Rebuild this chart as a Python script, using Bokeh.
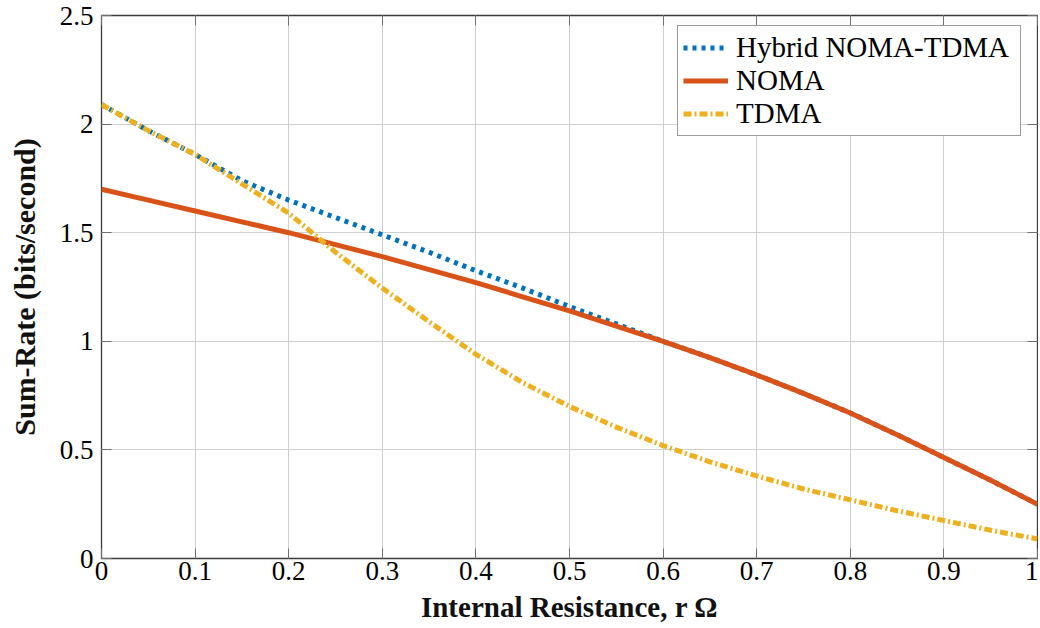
from bokeh.plotting import figure
from bokeh.models import (Range1d, LinearAxis, SingleIntervalTicker,
                          CustomJSTickFormatter)
from bokeh.embed import file_html
from bokeh.resources import INLINE

# ---- data ----
r = [0.0, 0.05, 0.1, 0.15, 0.2, 0.25, 0.3, 0.35, 0.4, 0.45, 0.5,
     0.55, 0.6, 0.65, 0.7, 0.75, 0.8, 0.85, 0.9, 0.95, 1.0]
hybrid = [2.09, 1.97, 1.86, 1.74, 1.65, 1.57, 1.49, 1.41, 1.325, 1.245, 1.16,
          1.08, 1.0, 0.925, 0.845, 0.76, 0.67, 0.57, 0.465, 0.36, 0.25]
noma = [1.70, 1.65, 1.60, 1.55, 1.50, 1.445, 1.39, 1.33, 1.27, 1.205, 1.14,
        1.07, 1.0, 0.925, 0.845, 0.76, 0.67, 0.57, 0.465, 0.36, 0.25]
tdma = [2.09, 1.97, 1.86, 1.725, 1.59, 1.41, 1.245, 1.09, 0.94, 0.81, 0.70,
        0.605, 0.52, 0.445, 0.38, 0.32, 0.27, 0.22, 0.175, 0.13, 0.09]

series_names = ["Hybrid NOMA-TDMA", "NOMA", "TDMA"]
x_label = "Internal Resistance, r \u03a9"
y_label = "Sum-Rate (bits/second)"

FONT = "Liberation Serif"
TICK_SIZE = "27px"

p = figure(width=1038, height=625,
           x_range=Range1d(0, 1), y_range=Range1d(0, 2.5),
           output_backend="svg", toolbar_location=None,
           min_border_left=101, min_border_right=1,
           min_border_top=15, min_border_bottom=62)

p.background_fill_color = "white"
p.border_fill_color = "white"
p.outline_line_color = "#3a3a3a"
p.outline_line_width = 1.3

fmt = CustomJSTickFormatter(code="return String(Math.round(tick*10)/10);")
blank = CustomJSTickFormatter(code="return '';")
xt = SingleIntervalTicker(interval=0.1, num_minor_ticks=0)
yt = SingleIntervalTicker(interval=0.5, num_minor_ticks=0)

xa = p.below[0]
ya = p.left[0]

def style_axis(ax, ticker, show_labels):
    ax.ticker = ticker
    ax.axis_line_color = None
    ax.major_tick_in = 10
    ax.major_tick_out = 0
    ax.major_tick_line_color = "#707070"
    ax.major_tick_line_width = 1
    ax.minor_tick_line_color = None
    ax.major_label_text_font = FONT
    ax.major_label_text_color = "black"
    if show_labels:
        ax.formatter = fmt
        ax.major_label_text_font_size = TICK_SIZE
    else:
        ax.formatter = blank
        ax.major_label_text_font_size = "1px"
        ax.major_label_standoff = 0

style_axis(xa, xt, True)
style_axis(ya, yt, True)
xa.major_label_standoff = 3
ya.major_label_standoff = 8

top = LinearAxis()
right = LinearAxis()
style_axis(top, SingleIntervalTicker(interval=0.1, num_minor_ticks=0), False)
style_axis(right, SingleIntervalTicker(interval=0.5, num_minor_ticks=0), False)
p.add_layout(top, "above")
p.add_layout(right, "right")

xa.axis_label = x_label
ya.axis_label = y_label
for ax in (xa, ya):
    ax.axis_label_text_font = FONT
    ax.axis_label_text_font_style = "bold"
    ax.axis_label_text_color = "#111111"
xa.axis_label_text_font_size = "29px"
ya.axis_label_text_font_size = "30px"
xa.axis_label_standoff = 8
ya.axis_label_standoff = 16

p.xgrid.ticker = xt
p.ygrid.ticker = yt
p.grid.grid_line_color = "#cfcfcf"
p.grid.grid_line_width = 1

p.line(r, hybrid, color="#0072BD", line_width=5, line_dash="4 5",
       line_cap="butt", legend_label=series_names[0])
p.line(r, noma, color="#D95319", line_width=5,
       legend_label=series_names[1])
p.line(r, tdma, color="#EDB120", line_width=5, line_dash="8 3 2 3",
       line_cap="butt", legend_label=series_names[2])

lg = p.legend[0]
lg.location = (576, 422)
lg.margin = 0
lg.padding = 5
lg.spacing = 0
lg.glyph_width = 45
lg.glyph_height = 33
lg.label_height = 33
lg.label_width = 279
lg.label_standoff = 8
lg.label_text_font = FONT
lg.label_text_font_size = "29px"
lg.label_text_color = "black"
lg.border_line_color = "#3a3a3a"
lg.border_line_width = 1.2
lg.background_fill_color = "white"
lg.background_fill_alpha = 1.0

open("out.html", "w").write(file_html(p, INLINE))
